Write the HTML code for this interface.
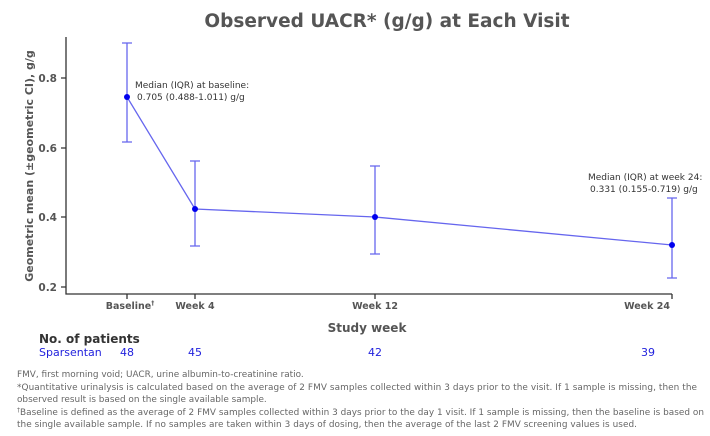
<!DOCTYPE html>
<html><head><meta charset="utf-8"><style>
body{margin:0;background:#fff;width:710px;height:432px;overflow:hidden;font-family:"DejaVu Sans","Liberation Sans",sans-serif}
</style></head><body>
<svg width="710" height="432" xmlns="http://www.w3.org/2000/svg" font-family="DejaVu Sans, Liberation Sans, sans-serif">
<text x="387" y="27" text-anchor="middle" font-size="18.5" font-weight="bold" fill="#555">Observed UACR* (g/g) at Each Visit</text>
<g stroke="#333" stroke-width="1.3" fill="none">
<path d="M66 37 V294 H672"/>
<path d="M61 78H66M61 148H66M61 217H66M61 287H66"/>
<path d="M127 294V299M195 294V299M375 294V299M672 294V299"/>
</g>
<g font-size="10.5" font-weight="bold" fill="#555" text-anchor="end">
<text x="57" y="82">0.8</text><text x="57" y="152">0.6</text><text x="57" y="221">0.4</text><text x="57" y="291">0.2</text>
</g>
<text transform="translate(33,166) rotate(-90)" text-anchor="middle" font-size="11" font-weight="bold" fill="#555">Geometric mean (±geometric CI), g/g</text>
<g font-size="9.5" font-weight="bold" fill="#555" text-anchor="middle">
<text x="130" y="309">Baseline<tspan font-size="6" dy="-4">†</tspan></text>
<text x="195" y="309">Week 4</text><text x="375" y="309">Week 12</text><text x="647" y="309">Week 24</text>
</g>
<text x="367" y="332" text-anchor="middle" font-size="12" font-weight="bold" fill="#555">Study week</text>
<text x="39" y="343" font-size="12" font-weight="bold" fill="#333">No. of patients</text>
<g font-size="11" fill="#2222dd">
<text x="39" y="356">Sparsentan</text>
<text x="127" y="356" text-anchor="middle">48</text><text x="195" y="356" text-anchor="middle">45</text>
<text x="375" y="356" text-anchor="middle">42</text><text x="648" y="356" text-anchor="middle">39</text>
</g>
<g stroke="#6666ee" stroke-width="1.3" fill="none">
<polyline points="127,97 195,209 375,217 672,245"/>
<path d="M127 43V142M122 43H132M122 142H132"/>
<path d="M195 161V246M190 161H200M190 246H200"/>
<path d="M375 166V254M370 166H380M370 254H380"/>
<path d="M672 198V278M667 198H677M667 278H677"/>
</g>
<g fill="#0000ee"><circle cx="127" cy="97" r="3"/><circle cx="195" cy="209" r="3"/><circle cx="375" cy="217" r="3"/><circle cx="672" cy="245" r="3"/></g>
<g font-size="9" fill="#333">
<text x="135" y="88">Median (IQR) at baseline:</text>
<text x="137" y="100">0.705 (0.488-1.011) g/g</text>
<text x="588" y="180">Median (IQR) at week 24:</text>
<text x="590" y="192">0.331 (0.155-0.719) g/g</text>
</g>
<g font-size="8.9" fill="#666">
<text x="17" y="377">FMV, first morning void; UACR, urine albumin-to-creatinine ratio.</text>
<text x="17" y="390" textLength="680">*Quantitative urinalysis is calculated based on the average of 2 FMV samples collected within 3 days prior to the visit. If 1 sample is missing, then the</text>
<text x="17" y="402">observed result is based on the single available sample.</text>
<text x="17" y="415"><tspan font-size="6" dy="-3">†</tspan><tspan dy="3" textLength="684">Baseline is defined as the average of 2 FMV samples collected within 3 days prior to the day 1 visit. If 1 sample is missing, then the baseline is based on</tspan></text>
<text x="17" y="427" textLength="620">the single available sample. If no samples are taken within 3 days of dosing, then the average of the last 2 FMV screening values is used.</text>
</g>
</svg>
</body></html>
